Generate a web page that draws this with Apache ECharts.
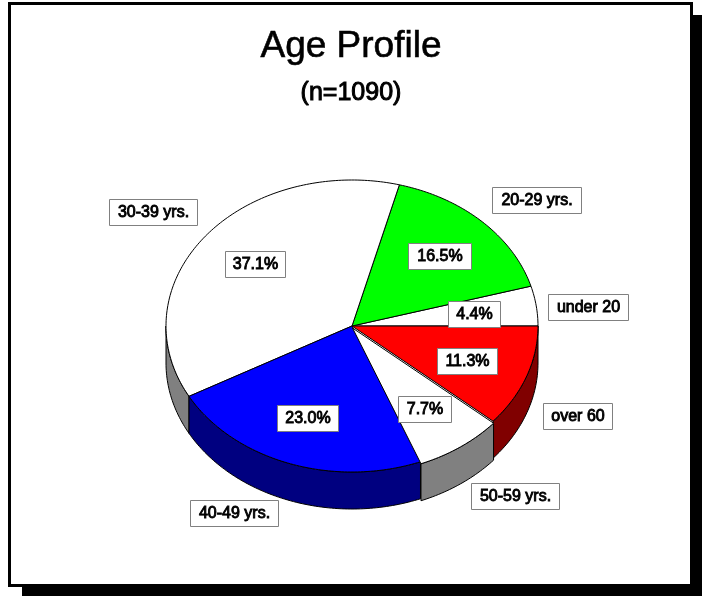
<!DOCTYPE html>
<html>
<head>
<meta charset="utf-8">
<style>html,body{margin:0;padding:0;background:#fff}#c{width:702px;height:596px}</style>
<script src="https://cdn.jsdelivr.net/npm/echarts@6/dist/echarts.min.js"></script>
</head>
<body>
<div id="c"></div>
<script>
const categories = ['under 20', '20-29 yrs.', '30-39 yrs.', '40-49 yrs.', '50-59 yrs.', 'over 60'];
const shares = [4.4, 16.5, 37.1, 23.0, 7.7, 11.3];
const topColors = ['#ffffff', '#00ff00', '#ffffff', '#0000ff', '#ffffff', '#ff0000'];
const sideColors = ['#808080', '#008000', '#808080', '#000080', '#808080', '#800000'];
const titleText = 'Age Profile';
const subtitleText = '(n=1090)';

// layout only
const pie = { cx: 352, cy: 326, rx: 186, ry: 146, depth: 37 };
const explode = [[0,0],[0,0],[0,0],[0,0],[0.5,2],[0,0]];
// [left, top, right, bottom] of each label box
const nameBoxes = [[548,294,628,320],[492,187,581,213],[109,199,197,225],[190,500,278,526],[471,483,559,509],[543,403,612,429]];
const pctBoxes  = [[448,301,500,327],[408,243,471,269],[225,251,285,277],[277,405,338,431],[398,396,451,422],[437,348,497,374]];

const total = shares.reduce((a,b)=>a+b,0);
function range(i){
  let s = 0;
  for (let k=0;k<i;k++) s += shares[k];
  return [s/total*360, (s+shares[i])/total*360];
}
function pt(deg,i,dy){
  const r = deg*Math.PI/180;
  return [pie.cx+explode[i][0]+pie.rx*Math.cos(r), pie.cy+explode[i][1]+(dy||0)-pie.ry*Math.sin(r)];
}
function arc(a,b,i,dy){
  const out=[], n=Math.max(2,Math.ceil(Math.abs(b-a)));
  for(let k=0;k<=n;k++) out.push(pt(a+(b-a)*k/n,i,dy));
  return out;
}
function renderTop(params){
  const i=params.dataIndex, [a,b]=range(i);
  const hub=[pie.cx+explode[i][0],pie.cy+explode[i][1]];
  return {type:'polygon',z2:explode[i][1]?5:1,shape:{points:[hub].concat(arc(a,b,i))},
    style:{fill:topColors[i],stroke:'#000',lineWidth:1,lineJoin:'round'}};
}
function renderSide(params){
  const i=params.dataIndex, [a,b]=range(i);
  const s=Math.max(a,180), e=Math.min(b,360);
  if(e<=s) return {type:'group',children:[]};
  const front=arc(s,e,i), back=arc(e,s,i,pie.depth);
  return {type:'polygon',z2:explode[i][1]?5:1,shape:{points:front.concat(back)},
    style:{fill:sideColors[i],stroke:'#000',lineWidth:1,lineJoin:'round'}};
}
function boxLabel(box,text){
  const w=box[2]-box[0], h=box[3]-box[1];
  return {type:'group',children:[
    {type:'rect',shape:{x:box[0]+.5,y:box[1]+.5,width:w,height:h},
      style:{fill:'#fff',stroke:'#808080',lineWidth:1}},
    {type:'text',style:{x:box[0]+w/2+.5,y:box[1]+h/2+.5,text:text,align:'center',verticalAlign:'middle',
      font:'16px "Liberation Sans", Arial, sans-serif',fill:'#000',stroke:'#000',lineWidth:.9}}
  ]};
}
function renderLabels(params){
  const i=params.dataIndex;
  return {type:'group',children:[
    boxLabel(nameBoxes[i],categories[i]),
    boxLabel(pctBoxes[i],shares[i].toFixed(1)+'%')
  ]};
}
const chart = echarts.init(document.getElementById('c'),null,{renderer:'canvas'});
chart.setOption({
  animation:false,
  backgroundColor:'#fff',
  title:[
    {text:titleText,left:'center',top:23,textStyle:{fontFamily:'"Liberation Sans", Arial, sans-serif',fontSize:37,fontWeight:'normal',color:'#000',textBorderColor:'#000',textBorderWidth:.6}},
    {text:subtitleText,left:'center',top:76,textStyle:{fontFamily:'"Liberation Sans", Arial, sans-serif',fontSize:25,fontWeight:'normal',color:'#000',textBorderColor:'#000',textBorderWidth:1}}
  ],
  graphic:[
    {type:'rect',z:-2,shape:{x:22,y:15,width:680,height:581},style:{fill:'#000'}},
    {type:'rect',z:-1,shape:{x:9.5,y:3.5,width:682,height:582},style:{fill:'#fff',stroke:'#000',lineWidth:3}}
  ],
  series:[
    {type:'custom',coordinateSystem:'none',z:2,silent:true,clip:false,renderItem:renderSide,data:shares},
    {type:'custom',coordinateSystem:'none',z:3,silent:true,clip:false,renderItem:renderTop,data:shares},
    {type:'custom',coordinateSystem:'none',z:4,silent:true,clip:false,renderItem:renderLabels,data:shares}
  ]
});
</script>
</body>
</html>
